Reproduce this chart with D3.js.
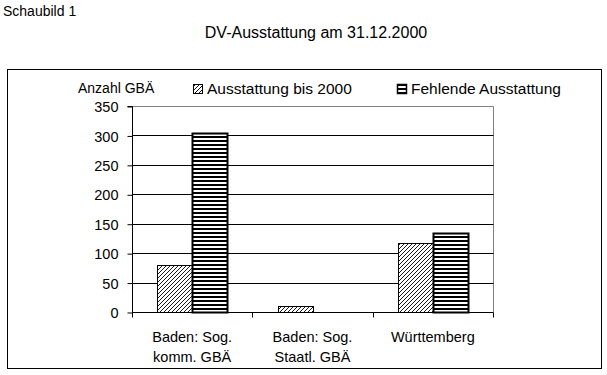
<!DOCTYPE html>
<html><head><meta charset="utf-8">
<script src="https://cdn.jsdelivr.net/npm/d3@7"></script>
<style>
body{margin:0;background:#fff;}
svg{display:block;font-family:"Liberation Sans",Arial,sans-serif;}
</style></head>
<body>
<svg id="c" width="607" height="375"></svg>
<script>
const categories = [["Baden: Sog.","komm. GBÄ"],["Baden: Sog.","Staatl. GBÄ"],["Württemberg"]];
const seriesNames = ["Ausstattung bis 2000","Fehlende Ausstattung"];
const ausstattung = [80, 11, 117];
const fehlend = [304, 0, 134];
const yTicks = [0,50,100,150,200,250,300,350];

const svg = d3.select("#c");
const defs = svg.append("defs");
const p1 = defs.append("pattern").attr("id","diag").attr("patternUnits","userSpaceOnUse")
  .attr("width",4).attr("height",4);
p1.append("rect").attr("width",4).attr("height",4).attr("fill","#fff");
p1.append("path").attr("d","M-1,1 l2,-2 M0,4 l4,-4 M3,5 l2,-2").attr("stroke","#000").attr("stroke-width",0.9);
const p2 = defs.append("pattern").attr("id","horiz").attr("patternUnits","userSpaceOnUse")
  .attr("width",4).attr("height",4);
p2.append("rect").attr("width",4).attr("height",4).attr("fill","#fff");
p2.append("rect").attr("y",0).attr("width",4).attr("height",2).attr("fill","#000");
const fills = ["url(#diag)","url(#horiz)"];

svg.append("text").attr("x",3).attr("y",16).attr("font-size",14).text("Schaubild 1");
svg.append("text").attr("x",316).attr("y",38).attr("font-size",16).attr("text-anchor","middle").text("DV-Ausstattung am 31.12.2000");

svg.append("rect").attr("x",7.5).attr("y",69.5).attr("width",594).attr("height",299)
  .attr("fill","none").attr("stroke","#000");

const L=132, R=493, T=106, B=312;
const x0 = d3.scaleBand().domain(d3.range(categories.length)).range([L,R]).paddingInner(0.42).paddingOuter(0.21);
const x1 = d3.scaleBand().domain([0,1]).range([0,x0.bandwidth()]);
const y = d3.scaleLinear().domain([0,350]).range([B,T]);

// plot border (gray)
svg.append("path").attr("d",`M${L},${T+0.5}H${R+0.5}V${B}`).attr("fill","none").attr("stroke","#808080");
// gridlines
svg.append("g").selectAll("line").data(yTicks.filter(d=>d>0&&d<350)).join("line")
  .attr("x1",L).attr("x2",R+0.5).attr("y1",d=>Math.round(y(d))+0.5).attr("y2",d=>Math.round(y(d))+0.5)
  .attr("stroke","#000");

const data = categories.map((c,i)=>[ausstattung[i], fehlend[i]]);
const g = svg.append("g");
data.forEach((vals,i)=>{
  vals.forEach((v,j)=>{
    if(v<=0) return;
    const bx = Math.round(x0(i)+x1(j))+0.5;
    const by = Math.round(y(v))+0.5;
    g.append("rect").attr("x",bx).attr("y",by).attr("width",Math.round(x1.bandwidth()))
      .attr("height",B-by+0.5).attr("fill",fills[j]).attr("stroke","#000")
      .attr("stroke-width", j===1?2:1);
  });
});

// y axis
const ya = d3.axisLeft(y).tickValues(yTicks).tickSize(5).tickPadding(9);
const yg = svg.append("g").attr("transform",`translate(${L+0.5},0.5)`).call(ya);
yg.select(".domain").attr("d",`M-5,${T}H0V${B}`).attr("stroke","#000");
yg.selectAll("text").attr("font-size",14.5).attr("font-family","Liberation Sans, Arial, sans-serif").attr("fill","#000").attr("dy","0.35em");

// x axis
const xg = svg.append("g").attr("transform",`translate(0,${B+0.5})`);
xg.append("line").attr("x1",L).attr("x2",R+0.5).attr("y1",0).attr("y2",0).attr("stroke","#000");
const bounds = d3.range(categories.length+1).map(i=>L+(R-L)*i/categories.length);
xg.selectAll("line.t").data(bounds).join("line").attr("class","t")
  .attr("x1",d=>Math.round(d)+0.5).attr("x2",d=>Math.round(d)+0.5).attr("y1",0).attr("y2",5).attr("stroke","#000");
categories.forEach((c,i)=>{
  const cx = x0(i)+x0.bandwidth()/2;
  const t = xg.append("text").attr("text-anchor","middle").attr("font-size",14.5).attr("y",29);
  c.forEach((line,k)=>t.append("tspan").attr("x",cx).attr("dy",k===0?0:20).text(line));
});

svg.append("text").attr("x",78).attr("y",93).attr("font-size",14).text("Anzahl GBÄ");

// legend
const legX=[193,397];
seriesNames.forEach((n,i)=>{
  svg.append("rect").attr("x",legX[i]+0.5).attr("y",84.5).attr("width",9).attr("height",9)
    .attr("fill",fills[i]).attr("stroke","#000").attr("stroke-width", i===1?1.5:1);
  svg.append("text").attr("x",legX[i]+14).attr("y",94).attr("font-size",15.5).text(n);
});
</script>
</body></html>
